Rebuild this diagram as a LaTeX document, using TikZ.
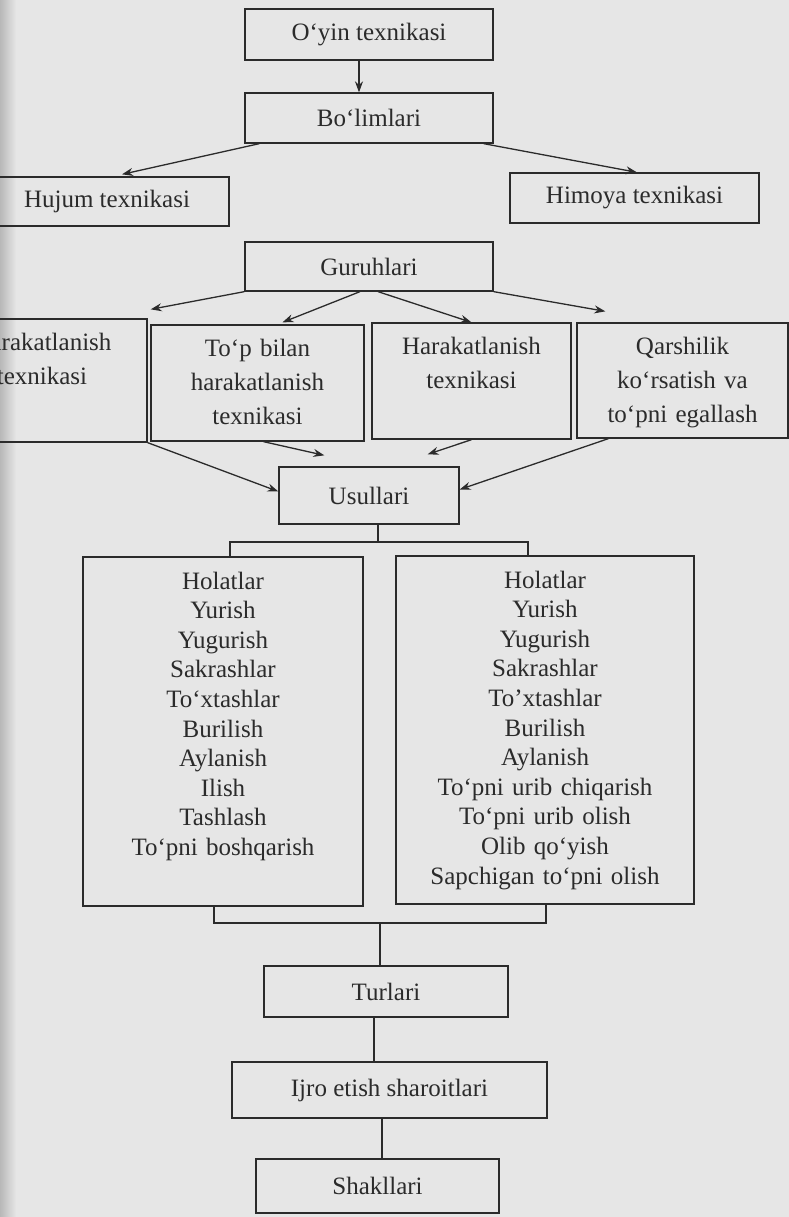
\documentclass[tikz,border=0pt]{standalone}
\usepackage{fontspec}
\setmainfont{Liberation Serif}
\usepackage{tikz}
\usetikzlibrary{arrows.meta}
\definecolor{paper}{HTML}{E6E6E6}
\definecolor{ink}{HTML}{2B2B2B}
\tikzset{
	box/.style={draw=ink, line width=1.3pt, inner sep=0pt, text=ink, align=center, font=\fontsize{25pt}{29.6pt}\selectfont},
	groupbox/.style={box, font=\fontsize{25pt}{34pt}\selectfont, text height=31pt, text depth=#1},
	listbox/.style={box, text height=32pt, text depth=#1}
}

\begin{document}
\begin{tikzpicture}[x=1pt, y=-1pt, >={Stealth[length=11pt,width=8pt]}, link/.style={draw=ink, line width=1.3pt}]
	\useasboundingbox (0,0) rectangle (789,1217);
	\clip (0,0) rectangle (789,1217);
	\fill[paper] (0,0) rectangle (789,1217);
	\shade[left color=black!28, right color=paper] (0,0) rectangle (16,1217);

	\node (oyin) at (369,34.5) [box, minimum width=248pt, minimum height=51pt] {O‘yin texnikasi};
	\node (bolim) at (369,118) [box, minimum width=248pt, minimum height=50pt] {Bo‘limlari};
	\node (hujum) at (107,201.5) [box, minimum width=244pt, minimum height=49pt] {Hujum texnikasi};
	\node (himoya) at (634.5,198) [box, minimum width=249pt, minimum height=50pt] {Himoya texnikasi};
	\node (guruh) at (369,266.5) [box, minimum width=248pt, minimum height=49pt] {Guruhlari};

	\node (harL) at (42,380.5) [groupbox=92pt, text width=210pt] {Harakatlanish\\texnikasi};
	\node (topbil) at (257.5,383) [groupbox=85pt, text width=213pt] {To‘p bilan\\harakatlanish\\texnikasi};
	\node (harak) at (471.5,381) [groupbox=85pt, text width=199pt] {Harakatlanish\\texnikasi};
	\node (qarsh) at (682.5,380.5) [groupbox=84pt, text width=211pt] {Qarshilik\\ko‘rsatish va\\to‘pni egallash};

	\node (usul) at (369,495.5) [box, minimum width=180pt, minimum height=57pt] {Usullari};

	\node (listL) at (223,731.5) [listbox=317pt, text width=280pt] {Holatlar\\Yurish\\Yugurish\\Sakrashlar\\To‘xtashlar\\Burilish\\Aylanish\\Ilish\\Tashlash\\To‘pni boshqarish};
	\node (listR) at (545,730) [listbox=316pt, text width=298pt] {Holatlar\\Yurish\\Yugurish\\Sakrashlar\\To’xtashlar\\Burilish\\Aylanish\\To‘pni urib chiqarish\\To‘pni urib olish\\Olib qo‘yish\\Sapchigan to‘pni olish};

	\node (turlar) at (386,991.5) [box, minimum width=244pt, minimum height=51pt] {Turlari};
	\node (ijro) at (389.5,1090) [box, minimum width=315pt, minimum height=56pt] {Ijro etish sharoitlari};
	\node (shakl) at (377.5,1186) [box, minimum width=243pt, minimum height=54pt] {Shakllari};

	\draw[link,->] ([xshift=-10pt]oyin.south) -- ([xshift=-10pt]bolim.north);
	\draw[link,->] ([xshift=15pt]bolim.south west) -- ([xshift=15pt,yshift=2pt]hujum.north);
	\draw[link,->] ([xshift=-10pt]bolim.south east) -- ([xshift=2.5pt]himoya.north);

	\draw[link,->] (guruh.south west) -- ([xshift=3pt,yshift=9pt]harL.north east);
	\draw[link,->] ([xshift=-9pt]guruh.south) -- ([xshift=25pt,yshift=2pt]topbil.north);
	\draw[link,->] ([xshift=9pt]guruh.south) -- (harak.north);
	\draw[link,->] (guruh.south east) -- ([xshift=29pt,yshift=11pt]qarsh.north west);

	\draw[link,->] ([xshift=6pt]topbil.south) -- ([xshift=46pt,yshift=11pt]usul.north west);
	\draw[link,->] (harak.south) -- ([xshift=-32pt,yshift=12pt]usul.north east);
	\draw[link,->] (harL.south east) -- ([yshift=4pt]usul.west);
	\draw[link,->] ([xshift=32pt]qarsh.south west) -- ([yshift=6pt]usul.east);

	\coordinate (ftop) at (378,542);
	\coordinate (fbot) at (380,923);
	\draw[link] ([xshift=9pt]usul.south) -- (ftop);
	\draw[link] ([xshift=7pt]listL.north) |- (ftop) -| ([xshift=-17pt]listR.north);
	\draw[link] ([xshift=-9pt]listL.south) |- (fbot) -| ([xshift=1pt]listR.south);
	\draw[link] (fbot) -- ([xshift=-6pt]turlar.north);
	\draw[link] ([xshift=-12pt]turlar.south) -- ([xshift=-15.5pt]ijro.north);
	\draw[link] ([xshift=-7.5pt]ijro.south) -- ([xshift=4.5pt]shakl.north);
\end{tikzpicture}
\end{document}
